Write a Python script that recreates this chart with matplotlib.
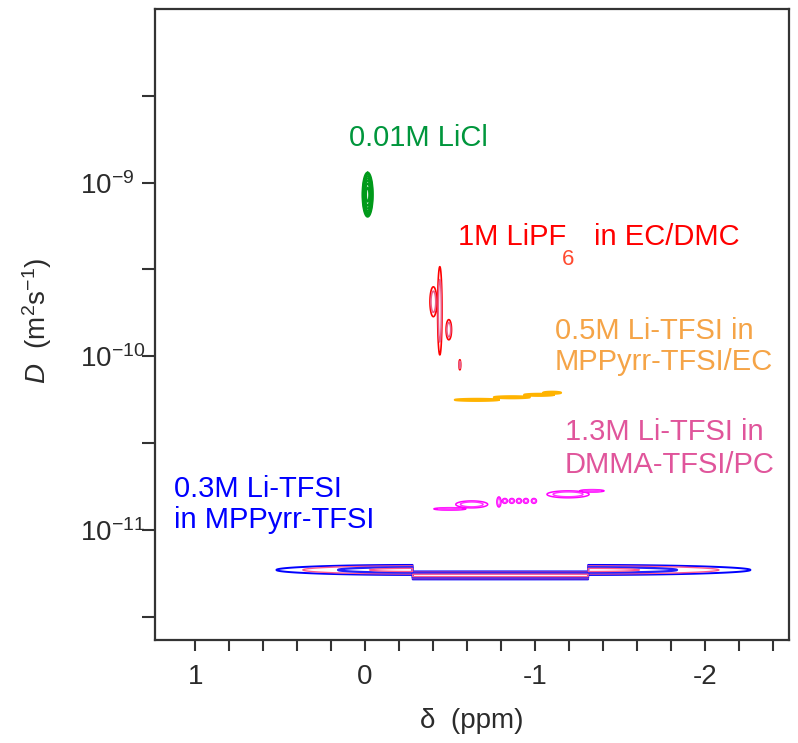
import numpy as np
import matplotlib
matplotlib.use("Agg")
import matplotlib.pyplot as plt
from matplotlib.ticker import FixedLocator, FixedFormatter, NullFormatter

plt.rcParams["font.family"] = ["Liberation Sans", "DejaVu Sans"]
plt.rcParams["mathtext.fontset"] = "custom"
plt.rcParams["mathtext.rm"] = "Liberation Sans"
plt.rcParams["mathtext.it"] = "Liberation Sans:italic"
plt.rcParams["mathtext.default"] = "regular"

# 7Li DOSY cross-peaks: centre shift (ppm), centre log10 D (m^2/s),
# shift half-width (ppm), log10 D half-width (decades)
licl_shift = [-0.015]
licl_logd = [-9.069]
licl_wshift = [0.030]
licl_wlogd = [0.127]

lipf6_shift = [-0.440, -0.402, -0.493, -0.558]
lipf6_logd = [-9.738, -9.686, -9.847, -10.049]
lipf6_wshift = [0.013, 0.020, 0.016, 0.005]
lipf6_wlogd = [0.254, 0.086, 0.058, 0.029]

ec_shift = [-0.658, -0.864, -1.024, -1.101]
ec_logd = [-10.251, -10.236, -10.222, -10.210]
ec_wshift = [0.130, 0.106, 0.088, 0.053]
ec_wlogd = [0.006, 0.006, 0.006, 0.006]

pc_shift = [-0.628, -0.499, -0.788, -0.823, -0.864, -0.906, -0.947, -0.994, -1.195, -1.336]
pc_logd = [-10.853, -10.879, -10.839, -10.833, -10.833, -10.833, -10.833, -10.833, -10.795, -10.775]
pc_wshift = [0.094, 0.094, 0.012, 0.015, 0.015, 0.015, 0.015, 0.015, 0.124, 0.071]
pc_wlogd = [0.020, 0.007, 0.029, 0.014, 0.014, 0.014, 0.014, 0.014, 0.020, 0.007]

il_shift = [-0.280, -0.796, -1.313]
il_logd = [-11.2305, -11.262, -11.2305]
il_wshift = [0.802, 5.0, 0.956]
il_wlogd = [0.0288, 0.023, 0.0288]
il_lo = [-0.280, -1.313, -np.inf]
il_hi = [np.inf, -0.280, -1.313]

# axis ranges and ticks
shift_range = (1.237, -2.496)
logd_range = (-11.634, -8.0)
x_ticks = [1.0, 0.8, 0.6, 0.4, 0.2, 0.0, -0.2, -0.4, -0.6, -0.8, -1.0,
           -1.2, -1.4, -1.6, -1.8, -2.0, -2.2, -2.4]
x_ticklabels = ["1", "", "", "", "", "0", "", "", "", "", "-1",
                "", "", "", "", "-2", "", ""]
y_major = [-11, -10, -9]
y_major_labels = [r"$10^{-11}$", r"$10^{-10}$", r"$10^{-9}$"]
y_minor = [-11.5, -10.5, -9.5, -8.5]


def peak_surface(shift, logd, wshift, wlogd, lo=None, hi=None,
                 dx=0.0012, dy=0.001):
    n = len(shift)
    lo = lo if lo is not None else [-np.inf] * n
    hi = hi if hi is not None else [np.inf] * n
    x0 = min(max(s - w, a) for s, w, a in zip(shift, wshift, lo)) - 6 * dx
    x1 = max(min(s + w, b) for s, w, b in zip(shift, wshift, hi)) + 6 * dx
    y0 = min(l - w for l, w in zip(logd, wlogd)) - 6 * dy
    y1 = max(l + w for l, w in zip(logd, wlogd)) + 6 * dy
    xs = np.arange(x0, x1, dx)
    ys = np.arange(y0, y1, dy)
    X, Y = np.meshgrid(xs, ys)
    Z = np.full(X.shape, -1.0)
    for s, l, ws, wl, a, b in zip(shift, logd, wshift, wlogd, lo, hi):
        z = 1.0 - ((X - s) / ws) ** 2 - ((Y - l) / wl) ** 2
        z = np.where((X >= a) & (X <= b), z, -1.0)
        Z = np.maximum(Z, z)
    return X, 10.0 ** Y, Z


fig = plt.figure(figsize=(7.98, 7.43), dpi=100)
ax = fig.add_axes([155 / 798, 103 / 743, 634 / 798, 631 / 743])

ax.set_yscale("log")
ax.set_xlim(*shift_range)
ax.set_ylim(10.0 ** logd_range[0], 10.0 ** logd_range[1])

# contours
X, Y, Z = peak_surface(il_shift, il_logd, il_wshift, il_wlogd, il_lo, il_hi)
ax.contour(X, Y, Z, levels=[0.0, 0.35, 0.7, 0.9],
           colors=["#0000ff", "#ff5a8c", "#2020ff", "#ff5a8c"],
           linewidths=[1.4, 1.0, 1.6, 1.0], linestyles="solid")

X, Y, Z = peak_surface(licl_shift, licl_logd, licl_wshift, licl_wlogd)
ax.contour(X, Y, Z, levels=np.linspace(0.0, 0.9, 7), colors="#009a1a",
           linewidths=1.5, linestyles="solid")

X, Y, Z = peak_surface(lipf6_shift, lipf6_logd, lipf6_wshift, lipf6_wlogd)
ax.contour(X, Y, Z, levels=[0.0, 0.5],
           colors=["#ff0000", "#e8608c"],
           linewidths=1.2, linestyles="solid")

X, Y, Z = peak_surface(ec_shift, ec_logd, ec_wshift, ec_wlogd)
ax.contour(X, Y, Z, levels=[0.0], colors=["#ffb300"],
           linewidths=1.5, linestyles="solid")

X, Y, Z = peak_surface(pc_shift, pc_logd, pc_wshift, pc_wlogd)
ax.contour(X, Y, Z, levels=[0.0, 0.5], colors=["#ff00ff", "#ff33ff"],
           linewidths=1.1, linestyles="solid")

# sample labels
fs = 21
ax.text(0.097, 10 ** -8.787, "0.01M LiCl", color="#00963c", fontsize=fs,
        ha="left", va="baseline")
ax.text(-0.546, 10 ** -9.357, "1M LiPF", color="#ff0000", fontsize=fs,
        ha="left", va="baseline")
ax.text(-1.159, 10 ** -9.473, "6", color="#ff4a30", fontsize=16,
        ha="left", va="baseline")
ax.text(-1.348, 10 ** -9.357, "in EC/DMC", color="#ff0000", fontsize=fs,
        ha="left", va="baseline")
ax.text(-1.118, 10 ** -9.899, "0.5M Li-TFSI in", color="#f5a447", fontsize=fs,
        ha="left", va="baseline")
ax.text(-1.118, 10 ** -10.078, "MPPyrr-TFSI/EC", color="#f5a447", fontsize=fs,
        ha="left", va="baseline")
ax.text(-1.177, 10 ** -10.481, "1.3M Li-TFSI in", color="#e0559b", fontsize=fs,
        ha="left", va="baseline")
ax.text(-1.177, 10 ** -10.671, "DMMA-TFSI/PC", color="#e0559b", fontsize=fs,
        ha="left", va="baseline")
ax.text(1.124, 10 ** -10.810, "0.3M Li-TFSI", color="#0000ff", fontsize=fs,
        ha="left", va="baseline")
ax.text(1.124, 10 ** -10.988, "in MPPyrr-TFSI", color="#0000ff", fontsize=fs,
        ha="left", va="baseline")

# axes styling
frame = "#333333"
for sp in ax.spines.values():
    sp.set_color(frame)
    sp.set_linewidth(1.6)

ax.xaxis.set_major_locator(FixedLocator(x_ticks))
ax.xaxis.set_major_formatter(FixedFormatter(x_ticklabels))
ax.xaxis.set_minor_locator(FixedLocator([]))
ax.yaxis.set_major_locator(FixedLocator([10.0 ** v for v in y_major]))
ax.yaxis.set_major_formatter(FixedFormatter(y_major_labels))
ax.yaxis.set_minor_locator(FixedLocator([10.0 ** v for v in y_minor]))
ax.yaxis.set_minor_formatter(NullFormatter())

ax.tick_params(axis="x", which="both", direction="out", length=8, width=1.5,
               color=frame, labelsize=20, labelcolor="#2b2b2b", pad=9)
ax.tick_params(axis="y", which="both", direction="out", length=9.5, width=1.5,
               color=frame, labelsize=20, labelcolor="#2b2b2b", pad=44.6)
for lbl in ax.get_yticklabels():
    lbl.set_horizontalalignment("left")

fig.text(472 / 798, 1 - 721 / 743, "\u03b4  (ppm)", fontsize=20,
         color="#2b2b2b", ha="center", va="center")
fig.text(37 / 798, 1 - 321 / 743, r"$\mathit{D}$  (m$^{2}$s$^{-1}$)", fontsize=20,
         color="#2b2b2b", ha="center", va="center", rotation=90)

fig.savefig("out.png", dpi=100)
